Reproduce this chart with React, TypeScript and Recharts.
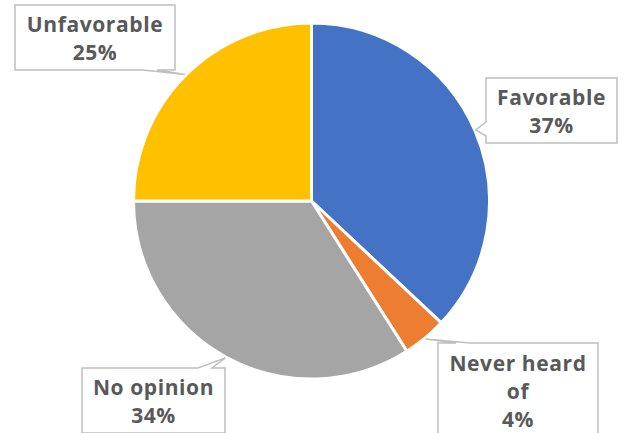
import React from "react";
import { PieChart, Pie, Cell } from "recharts";

const categories = ["Favorable", "Never heard of", "No opinion", "Unfavorable"];
const shares = [37, 4, 34, 25];
const colors = ["#4472C4", "#ED7D31", "#A5A5A5", "#FFC000"];

// label box layout: offset of box centre from pie centre, box size
const labelBoxes = [
  { dx: 240, dy: -90.5, w: 131, h: 65 },
  { dx: 206.5, dy: 190, w: 160, h: 96 },
  { dx: -158, dy: 199.5, w: 143, h: 65 },
  { dx: -216.5, dy: -163.5, w: 160, h: 65 },
];

const data = categories.map((name, i) => ({ name, value: shares[i] }));

const RAD = Math.PI / 180;

function wrap(text: string, maxChars: number): string[] {
  const words = text.split(" ");
  const lines: string[] = [];
  let cur = "";
  for (const w of words) {
    const t = cur ? cur + " " + w : w;
    if (t.length > maxChars && cur) {
      lines.push(cur);
      cur = w;
    } else cur = t;
  }
  if (cur) lines.push(cur);
  return lines;
}

function calloutPath(x: number, y: number, w: number, h: number, tx: number, ty: number) {
  const r = x + w;
  const b = y + h;
  const hw = 7;
  if (ty > b) {
    const c = Math.min(Math.max(tx, x + 20), r - 25);
    return `M${x},${y} L${r},${y} L${r},${b} L${c + hw},${b} L${tx},${ty} L${c - hw},${b} L${x},${b} Z`;
  }
  if (ty < y) {
    const c = Math.min(Math.max(tx, x + 25), r - 20);
    return `M${x},${y} L${c - hw},${y} L${tx},${ty} L${c + hw},${y} L${r},${y} L${r},${b} L${x},${b} Z`;
  }
  if (tx < x) {
    const c = Math.min(Math.max(ty, y + 14), b - 14);
    return `M${x},${y} L${r},${y} L${r},${b} L${x},${b} L${x},${c + hw} L${tx},${ty} L${x},${c - hw} Z`;
  }
  const c = Math.min(Math.max(ty, y + 14), b - 14);
  return `M${x},${y} L${r},${y} L${r},${c - hw} L${tx},${ty} L${r},${c + hw} L${r},${b} L${x},${b} Z`;
}

const renderLabel = (props: any) => {
  const { cx, cy, midAngle, outerRadius, index, name, value } = props;
  const box = labelBoxes[index];
  const bx = cx + box.dx - box.w / 2;
  const by = cy + box.dy - box.h / 2;
  const tx = cx + (outerRadius + 1) * Math.cos(-midAngle * RAD);
  const ty = cy + (outerRadius + 1) * Math.sin(-midAngle * RAD);
  const lines = [...wrap(name, 11), `${value}%`];
  const lh = 28;
  const startY = cy + box.dy - ((lines.length - 1) * lh) / 2;
  return (
    <g key={`lbl-${index}`}>
      <path d={calloutPath(bx, by, box.w, box.h, tx, ty)} fill="#FFFFFF" stroke="#BFBFBF" strokeWidth={1.5} />
      <text
        x={cx + box.dx}
        textAnchor="middle"
        fill="#595959"
        fontFamily="'Open Sans', sans-serif"
        fontWeight={700}
        fontSize={21}
        letterSpacing={0.6}
      >
        {lines.map((l, i) => (
          <tspan key={i} x={cx + box.dx} y={startY + i * lh} dominantBaseline="central">
            {l}
          </tspan>
        ))}
      </text>
    </g>
  );
};

export default function App() {
  return (
    <div style={{ position: "absolute", left: 0, top: 0, width: 627, height: 433, background: "#FFFFFF" }}>
      <PieChart width={627} height={433} margin={{ top: 0, right: 0, bottom: 0, left: 0 }}>
        <Pie
          data={data}
          dataKey="value"
          nameKey="name"
          cx={311.5}
          cy={201}
          outerRadius={178}
          startAngle={90}
          endAngle={-270}
          stroke="#FFFFFF"
          strokeWidth={3}
          labelLine={false}
          label={renderLabel}
          isAnimationActive={false}
        >
          {data.map((d, i) => (
            <Cell key={d.name} fill={colors[i]} />
          ))}
        </Pie>
      </PieChart>
    </div>
  );
}
